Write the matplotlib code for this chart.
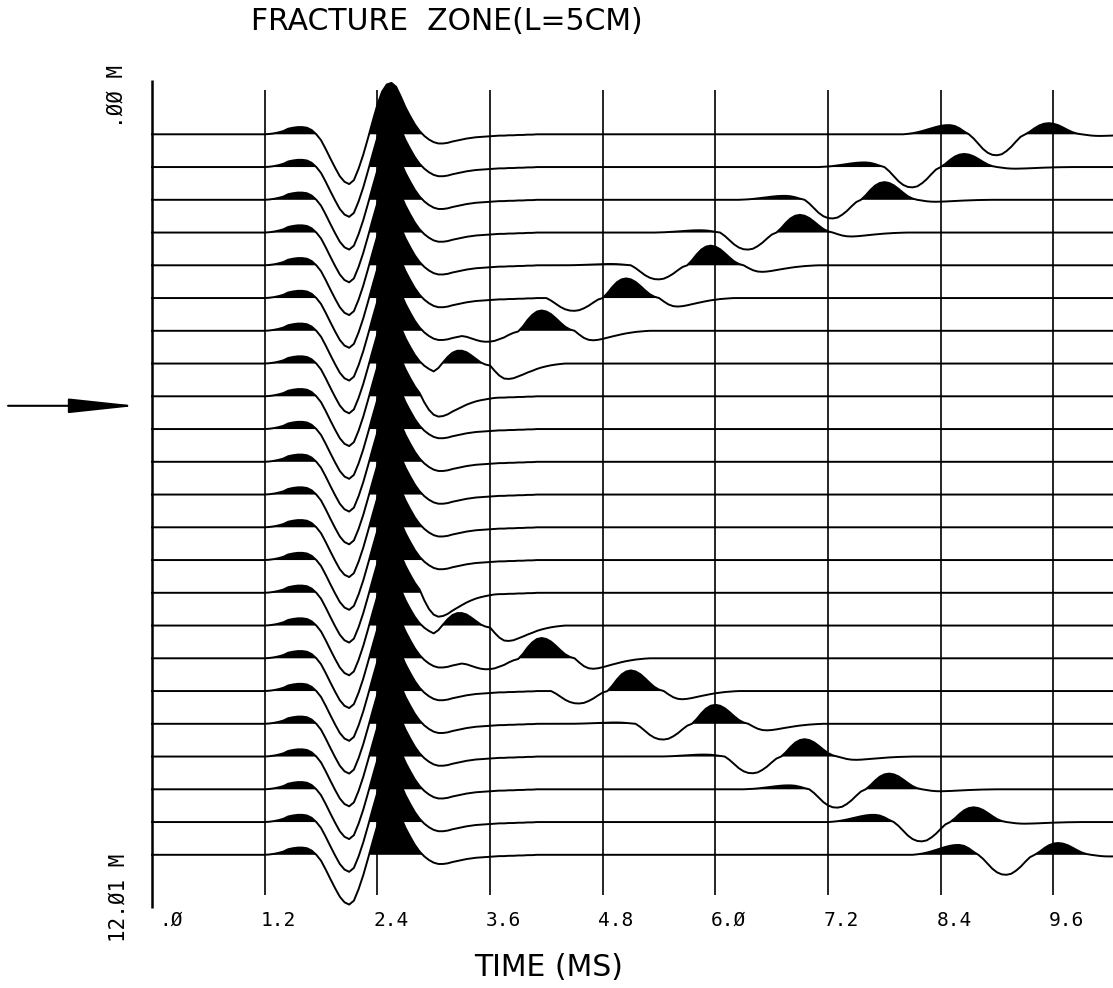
import numpy as np
import matplotlib
matplotlib.use("Agg")
import matplotlib.pyplot as plt

# ====== 数据 ======
dt = 0.05  # ms
t = np.round(np.arange(0, 10.25 + 1e-9, dt), 2)

# 直达波（从 1.20 ms 开始，每 0.05 ms 一个采样，单位=道间距）
direct_start = 1.20
direct_wave = [0.00, 0.01, 0.03, 0.06, 0.10, 0.17, 0.20, 0.22, 0.22, 0.20,
               0.13, 0.00, -0.18, -0.45, -0.74, -1.02, -1.28, -1.45, -1.52, -1.40,
               -1.05, -0.62, -0.12, 0.40, 0.90, 1.30, 1.52, 1.57, 1.45, 1.15,
               0.82, 0.55, 0.30, 0.10, -0.05, -0.16, -0.24, -0.28, -0.28, -0.26,
               -0.22, -0.19, -0.16, -0.13, -0.11, -0.09, -0.08, -0.07, -0.06, -0.05,
               -0.04, -0.04, -0.03, -0.03, -0.02, -0.02, -0.01, -0.01, 0.00]

# 反射波的四个波瓣（归一化形状）
lobe_p1 = [0, 0.05, 0.12, 0.22, 0.35, 0.5, 0.65, 0.8, 0.92, 0.99, 1.0, 0.9, 0.65, 0.3, 0]
lobe_tr = [0, 0.2, 0.45, 0.7, 0.88, 0.98, 1.0, 0.95, 0.8, 0.6, 0.35, 0.12, 0]
lobe_p2 = [0, 0.25, 0.55, 0.8, 0.95, 1.0, 0.95, 0.82, 0.62, 0.4, 0.2, 0.07, 0]
lobe_tt = [0, 0.4, 0.75, 0.95, 1.0, 0.95, 0.85, 0.72, 0.6, 0.48, 0.37, 0.27, 0.19,
           0.12, 0.07, 0.03, 0]

# 每道反射波：波谷时间 (ms) 与四个波瓣幅度
refl_time = [9.0, 8.1, 7.25, 6.35, 5.4, 4.5, 3.6, 2.7, 1.95,
             np.nan, np.nan, np.nan, np.nan, np.nan,
             1.95, 2.7, 3.6, 4.55, 5.45, 6.4, 7.3, 8.2, 9.1]
refl_a1 = [0.28, 0.14, 0.12, 0.07, 0.04, 0.0, 0.0, 0.0, 0.0,
           0, 0, 0, 0, 0,
           0.0, 0.0, 0.0, 0.0, 0.04, 0.06, 0.12, 0.22, 0.30]
refl_a2 = [-0.64, -0.62, -0.57, -0.52, -0.43, -0.39, -0.27, -0.05, 0.0,
           0, 0, 0, 0, 0,
           0.0, -0.05, -0.27, -0.38, -0.48, -0.51, -0.56, -0.59, -0.61]
refl_a3 = [0.34, 0.40, 0.54, 0.54, 0.60, 0.60, 0.62, 0.58, 0.0,
           0, 0, 0, 0, 0,
           0.0, 0.57, 0.62, 0.63, 0.58, 0.53, 0.48, 0.45, 0.36]
refl_a4 = [-0.05, -0.05, -0.06, -0.12, -0.20, -0.26, -0.29, -0.44, -0.34,
           0, 0, 0, 0, 0,
           -0.45, -0.44, -0.32, -0.25, -0.20, -0.10, -0.06, -0.05, -0.05]

tick_times = [0.0, 1.2, 2.4, 3.6, 4.8, 6.0, 7.2, 8.4, 9.6]
tick_labels = [".Ø", "1.2", "2.4", "3.6", "4.8", "6.Ø", "7.2", "8.4", "9.6"]
depth_top, depth_bottom = ".ØØ M", "12.Ø1 M"
arrow_depth = 8.29  # 以道号为单位

n_tr = len(refl_time)
n = len(t)

# ====== 合成各道 ======
traces = []
i_dir = int(round(direct_start / dt))
lobes = [lobe_p1, lobe_tr, lobe_p2, lobe_tt]
offs = [0, len(lobe_p1) - 1, len(lobe_p1) + len(lobe_tr) - 2,
        len(lobe_p1) + len(lobe_tr) + len(lobe_p2) - 3]
for k in range(n_tr):
    tr = np.zeros(n)
    tr[i_dir:i_dir + len(direct_wave)] += direct_wave
    if not np.isnan(refl_time[k]):
        i0 = int(round((refl_time[k] - 1.0) / dt))
        amps = [refl_a1[k], refl_a2[k], refl_a3[k], refl_a4[k]]
        for lobe, off, a in zip(lobes, offs, amps):
            for j, v in enumerate(lobe):
                idx = i0 + off + j
                if idx < n:
                    tr[idx] += a * v
    traces.append(tr)

# ====== 画图 ======
W, H = 1113, 988
fig = plt.figure(figsize=(W / 100, H / 100), dpi=100)
ax = fig.add_axes([0, 0, 1, 1])
px_per_ms, x0 = 93.9, 152.0
base0, spacing = 134.3, 32.75
ax.set_xlim(-x0 / px_per_ms, (W - x0) / px_per_ms)
ax.set_ylim((H - base0) / spacing, -base0 / spacing)
ax.axis("off")

# 网格线与左轴
ax.vlines(tick_times[1:], -1.35, 23.22, color="black", lw=1.2, zorder=1)
ax.vlines(tick_times[0], -1.66, 23.62, color="black", lw=1.8, zorder=1)

for k, tr in enumerate(traces):
    y = k - tr
    ax.fill_between(t, k, y, where=tr > 0, interpolate=True,
                    color="black", lw=0, zorder=2)
    ax.plot(t, y, color="black", lw=1.4, zorder=3)

mono = "DejaVu Sans Mono"
for tt, lab in zip(tick_times, tick_labels):
    ax.text(tt + 0.33, 24.0, lab, ha="right", va="center", fontsize=14, family=mono)

ax.text(-0.38, -0.19, depth_top, rotation=90, ha="center", va="bottom",
        fontsize=15, family=mono)
ax.text(-0.36, n_tr - 1 - 0.03, depth_bottom, rotation=90, ha="center", va="top",
        fontsize=15, family=mono)

ax.text(3.14, -3.43, "FRACTURE  ZONE(L=5CM)", ha="center", va="center",
        fontsize=21.5, family="DejaVu Sans")
ax.text(4.22, 25.43, "TIME (MS)", ha="center", va="center",
        fontsize=21.5, family="DejaVu Sans")

ax.annotate("", xy=(-0.16, arrow_depth), xytext=(-1.533, arrow_depth),
            arrowprops=dict(arrowstyle="-|>,head_length=4.2,head_width=0.45",
                            mutation_scale=10, lw=1.5, color="black",
                            shrinkA=0, shrinkB=0))

fig.savefig("out.png", dpi=100)
